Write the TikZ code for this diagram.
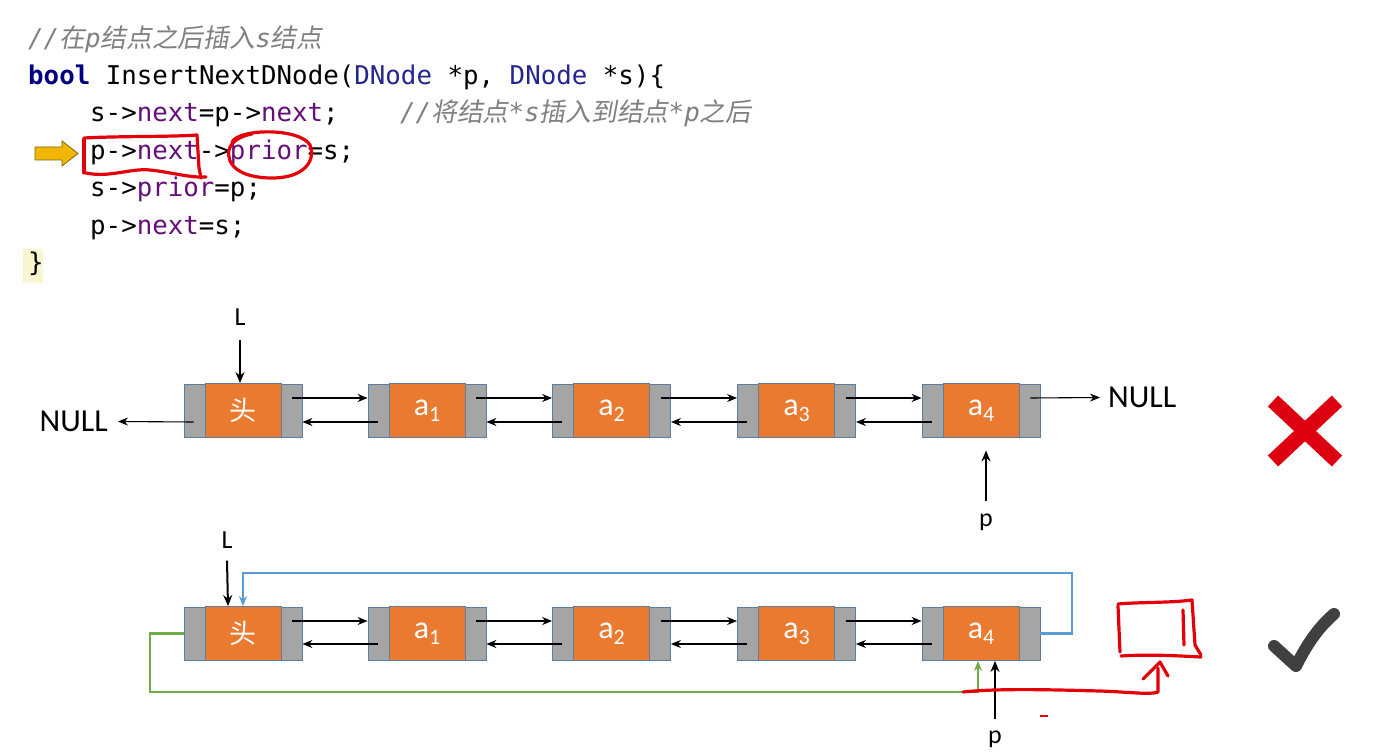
\documentclass[tikz,border=0pt]{standalone}
\usepackage{fontspec}
\setmainfont{Carlito}
\newfontfamily\codefont{DejaVu Sans Mono}
\newfontfamily\cjk{Noto Sans CJK SC}
\newfontfamily\cjkit[FakeSlant=0.18]{Noto Sans CJK SC}
\usetikzlibrary{arrows.meta,calc}
\definecolor{nodeor}{HTML}{E97A30}
\definecolor{nodegr}{HTML}{A5A5A5}
\definecolor{nodebd}{HTML}{5E7C9E}
\definecolor{lnblue}{HTML}{5B9BD5}
\definecolor{lngreen}{HTML}{70AD47}
\definecolor{kwnavy}{HTML}{000080}
\definecolor{typenavy}{HTML}{25258E}
\definecolor{fieldpurple}{HTML}{660E7A}
\definecolor{cmtgray}{HTML}{808080}
\definecolor{penred}{HTML}{E3000B}
\definecolor{xred}{HTML}{DD0010}
\definecolor{checkgray}{HTML}{404040}
\definecolor{arrowgold}{HTML}{F2B705}
\definecolor{bracehl}{HTML}{FBF6D2}
\tikzset{
  codeline/.style={anchor=base west, inner sep=0pt, font=\codefont\fontsize{25.8}{30}\selectfont},
  lnode/.style={rectangle, draw=nodebd, fill=nodegr, line width=0.8pt, minimum width=118pt, minimum height=53pt, inner sep=0pt},
  lcore/.style={rectangle, draw=nodebd, fill=nodeor, line width=0.8pt, minimum width=76pt, minimum height=54pt, inner sep=0pt, text=white, font=\fontsize{32}{32}\selectfont},
  lbl/.style={inner sep=0pt, font=\fontsize{26}{26}\selectfont},
  nulltxt/.style={inner sep=0pt, font=\fontsize{32}{32}\selectfont},
  arr/.style={-{Stealth[length=10pt,width=8pt]}, line width=1.1pt, black},
  parr/.style={-{Stealth[length=11pt,width=9pt]}, line width=2pt, black},
  bluearr/.style={-{Stealth[length=10pt,width=8pt]}, line width=2.2pt, lnblue},
  greenarr/.style={-{Stealth[length=10pt,width=8pt]}, line width=2.2pt, lngreen},
  pen/.style={penred, line width=3.2pt, line cap=round, line join=round},
}
\newcommand{\subtxt}[1]{\raisebox{-6pt}{\fontsize{22}{22}\selectfont #1}}
\begin{document}
\begin{tikzpicture}[x=1pt,y=-1pt]
\useasboundingbox (0,0) rectangle (1382,754);
\fill[white] (0,0) rectangle (1382,754);

% ---------- code ----------
\fill[bracehl] (23,249) rectangle (43,283);
\node[codeline] (c1) at (28,48) {\color{cmtgray}\itshape //{\cjkit\upshape 在}p{\cjkit\upshape 结点之后插入}s{\cjkit\upshape 结点}};
\node[codeline] (c2) at (28,85) {{\color{kwnavy}\bfseries bool} InsertNextDNode({\color{typenavy}DNode} *p, {\color{typenavy}DNode} *s)\{};
\node[codeline] (c3) at (90,122) {s->{\color{fieldpurple}next}=p->{\color{fieldpurple}next};};
\node[codeline] (c3c) at (400,122) {\color{cmtgray}\itshape //{\cjkit\upshape 将结点}*s{\cjkit\upshape 插入到结点}*p{\cjkit\upshape 之后}};
\node[codeline] (c4) at (90,160) {p->{\color{fieldpurple}next}->{\color{fieldpurple}prior}=s;};
\node[codeline] (c5) at (90,197) {s->{\color{fieldpurple}prior}=p;};
\node[codeline] (c6) at (90,235) {p->{\color{fieldpurple}next}=s;};
\node[codeline] (c7) at (28,272) {\}};

% yellow pointer
\filldraw[fill=arrowgold, draw=black!45!arrowgold, line width=0.8pt]
  (35,147) -- (62,147) -- (62,141) -- (78,153.5) -- (62,166) -- (62,160) -- (35,160) -- cycle;

% red handwriting on code
\draw[pen] (84,139) -- (84,173);
\draw[pen] (84,138) .. controls (120,136) and (170,137) .. (197,135) -- (199,168) -- (201,178);
\draw[pen] (86,173) .. controls (110,178) and (130,168) .. (150,170) .. controls (170,172) and (190,178) .. (206,177);
\draw[pen] (232,142) .. controls (240,128) and (300,128) .. (310,145) .. controls (316,160) and (305,178) .. (272,178)
  .. controls (240,178) and (226,165) .. (229,150) .. controls (231,142) and (240,136) .. (252,134);

% ---------- list 1 ----------
\node[lnode] (h1) at (243,410.5) {};
\node[lcore] (h1c) at (243,410.5) {\cjk\fontsize{27}{27}\selectfont 头};
\node[lnode] (a11) at (427,410.5) {};
\node[lcore] (a11c) at (427,410.5) {a\subtxt{1}};
\node[lnode] (a21) at (611.5,410.5) {};
\node[lcore] (a21c) at (611.5,410.5) {a\subtxt{2}};
\node[lnode] (a31) at (796.5,410.5) {};
\node[lcore] (a31c) at (796.5,410.5) {a\subtxt{3}};
\node[lnode] (a41) at (981,410.5) {};
\node[lcore] (a41c) at (981,410.5) {a\subtxt{4}};

\foreach \u/\v in {h1/a11,a11/a21,a21/a31,a31/a41}{
  \draw[arr] ([xshift=-10pt,yshift=12.5pt]\u.east) -- ([yshift=12.5pt]\v.west);
  \draw[arr] ([xshift=10pt,yshift=-11.5pt]\v.west) -- ([yshift=-11.5pt]\u.east);
}
\node[nulltxt, anchor=east] (nl1) at (108,421.5) {NULL};
\draw[arr] ([xshift=10pt,yshift=-11.5pt]h1.west) -- ([xshift=10pt]nl1.east);
\node[nulltxt, anchor=west] (nr1) at (1108,397.5) {NULL};
\draw[arr] ([xshift=-10pt,yshift=12.5pt]a41.east) -- ([xshift=-8pt]nr1.west);

\node[lbl] (L1) at (240,317) {L};
\draw[parr] ([yshift=-14pt]L1.south) -- (L1.south |- h1c.north);
\node[lbl] (p1) at (986,522) {p};
\draw[parr] ([yshift=12pt]p1.north) -- ([yshift=-13pt]p1.north |- a41.south);

% ---------- list 2 ----------
\node[lnode] (h2) at (243,633.5) {};
\node[lcore] (h2c) at (243,633.5) {\cjk\fontsize{27}{27}\selectfont 头};
\node[lnode] (a12) at (427,633.5) {};
\node[lcore] (a12c) at (427,633.5) {a\subtxt{1}};
\node[lnode] (a22) at (611.5,633.5) {};
\node[lcore] (a22c) at (611.5,633.5) {a\subtxt{2}};
\node[lnode] (a32) at (796.5,633.5) {};
\node[lcore] (a32c) at (796.5,633.5) {a\subtxt{3}};
\node[lnode] (a42) at (981,633.5) {};
\node[lcore] (a42c) at (981,633.5) {a\subtxt{4}};

\foreach \u/\v in {h2/a12,a12/a22,a22/a32,a32/a42}{
  \draw[arr] ([xshift=-10pt,yshift=12.5pt]\u.east) -- ([yshift=12.5pt]\v.west);
  \draw[arr] ([xshift=10pt,yshift=-10.5pt]\v.west) -- ([yshift=-10.5pt]\u.east);
}

\coordinate (bl1) at (1072,573);
\draw[bluearr] (a42.east) -| (bl1) -| (h2c.north);
\coordinate (gr1) at (150,692);
\draw[greenarr] (h2.west) -| (gr1) -| ([xshift=-3pt]a42c.south);

\node[lbl] (L2) at (227,540) {L};
\draw[parr] ([yshift=-12pt]L2.south) -- ([xshift=1pt]L2.south |- h2c.north);
\node[lbl] (p2) at (995,739) {p};
\draw[parr] ([yshift=11pt]p2.north) -- (p2.north |- a42c.south);

% red handwriting lower
\draw[pen] (963,692) .. controls (1000,688) and (1060,690) .. (1100,691) .. controls (1130,692) and (1150,695) .. (1158,692) -- (1158,668);
\draw[pen] (1143,679) -- (1160,662) -- (1168,676);
\draw[pen] (1118,606) -- (1120,652);
\draw[pen] (1118,604) .. controls (1140,602) and (1170,603) .. (1192,600) -- (1195,645) -- (1201,655);
\draw[pen] (1121,656) .. controls (1150,654) and (1180,656) .. (1201,657);
\draw[pen] (1183,610) -- (1184,645);
\draw[penred, line width=2.5pt] (1040,716) -- (1048,716);

% ---------- marks ----------
\draw[xred, line width=15pt] (1273,401) -- (1337,461);
\draw[xred, line width=15pt] (1337,401) -- (1273,461);
\draw[checkgray, line width=12pt, line cap=round, line join=round]
  (1274,646) -- (1296,666) .. controls (1308,642) and (1320,626) .. (1334,614);
\end{tikzpicture}
\end{document}
